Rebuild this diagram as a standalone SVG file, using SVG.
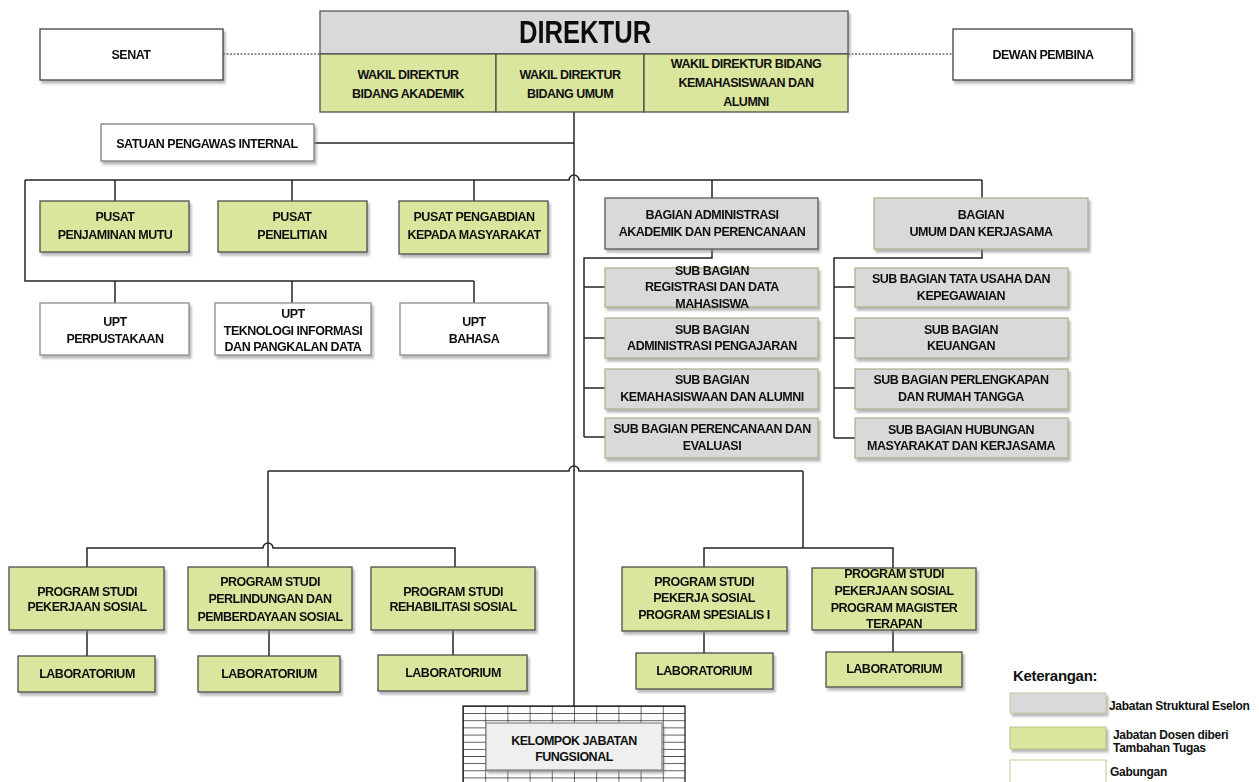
<svg xmlns="http://www.w3.org/2000/svg" width="1259" height="782" viewBox="0 0 1259 782">
<style>
text{font-family:"Liberation Sans",Arial,sans-serif;font-weight:bold;font-size:12.5px;letter-spacing:-0.5px;fill:#111;text-anchor:middle}
.g{fill:#D9D9D9;stroke:#595959;stroke-width:1.3}
.y{fill:#DAE69E;stroke:#4D4D4D;stroke-width:1.3}
.w{fill:#FFFFFF;stroke:#404040;stroke-width:1.3}
.gl{fill:#D9D9D9;stroke:#B0B48E;stroke-width:1.3}
.c{fill:none;stroke:#262626;stroke-width:1.5}
.d{fill:none;stroke:#262626;stroke-width:1;stroke-dasharray:2 1.5}
.sh{filter:url(#sh)}
.lg{text-anchor:start;font-size:12px;letter-spacing:-0.3px}
</style>
<defs>
<filter id="sh" x="-10%" y="-10%" width="130%" height="140%">
<feDropShadow dx="2" dy="3" stdDeviation="1.2" flood-color="#808080" flood-opacity="0.55"/>
</filter>
<pattern id="grid" x="463" y="706" width="22.2" height="7.15" patternUnits="userSpaceOnUse">
<path d="M0 0H22.2M0 0V7.15" fill="none" stroke="#111" stroke-width="1.2"/>
</pattern>
</defs>

<g id="connectors">
<path class="d" d="M223 54H320M848 54H953"/>
<path class="c" d="M574 112V706"/>
<path class="c" d="M314 143H574"/>
<path class="c" d="M25 180H569A5 5 0 0 1 579 180H982M25 180V281H474"/>
<path class="c" d="M115 180V201M292 180V201M474 180V201M115 281V303M292 281V303M474 281V303M712 180V198M982 180V198"/>
<path class="c" d="M712 249V258H584V437M584 287H605M584 338H605M584 388H605M584 437H605"/>
<path class="c" d="M982 249V258H834V438M834 287H855M834 338H855M834 388H855M834 438H855"/>
<path class="c" d="M268 471H569A5 5 0 0 1 579 471H803M268 471V567"/>
<path class="c" d="M87 567V548H263A5 5 0 0 1 273 548H455V567"/>
<path class="c" d="M803 471V548M704 567V548H893V568"/>
<path class="c" d="M87 630V656M269 630V656M453 630V655M704 631V653M893 630V652"/>
</g>

<g id="senat" class="sh"><rect class="w" x="40" y="29" width="183" height="51"/><text x="131" y="59">SENAT</text></g>
<g id="direktur" class="sh"><rect class="g" x="320" y="11" width="528" height="43"/><text transform="translate(585 43) scale(0.8 1)" x="0" y="0" style="font-size:32px;letter-spacing:0">DIREKTUR</text></g>
<g id="wd-akademik"><rect class="y" x="320" y="54" width="176" height="58"/><text x="408" y="79">WAKIL DIREKTUR</text><text x="408" y="98">BIDANG AKADEMIK</text></g>
<g id="wd-umum"><rect class="y" x="496" y="54" width="148" height="58"/><text x="570" y="79">WAKIL DIREKTUR</text><text x="570" y="98">BIDANG UMUM</text></g>
<g id="wd-kemahasiswaan"><rect class="y" x="644" y="54" width="204" height="58"/><text x="746" y="68">WAKIL DIREKTUR BIDANG</text><text x="746" y="87">KEMAHASISWAAN DAN</text><text x="746" y="106">ALUMNI</text></g>
<g id="dewan" class="sh"><rect class="w" x="953" y="29" width="179" height="51"/><text x="1043" y="59">DEWAN PEMBINA</text></g>
<g id="spi" class="sh"><rect class="w" x="101" y="124" width="213" height="37" style="stroke:#7F7F7F"/><text x="207" y="148">SATUAN PENGAWAS INTERNAL</text></g>

<g id="pusat-mutu" class="sh"><rect class="y" x="40" y="201" width="149" height="51"/><text x="115" y="221">PUSAT</text><text x="115" y="239">PENJAMINAN MUTU</text></g>
<g id="pusat-penelitian" class="sh"><rect class="y" x="218" y="201" width="149" height="51"/><text x="292" y="221">PUSAT</text><text x="292" y="239">PENELITIAN</text></g>
<g id="pusat-pengabdian" class="sh"><rect class="y" x="399" y="201" width="149" height="53"/><text x="474" y="221">PUSAT PENGABDIAN</text><text x="474" y="239">KEPADA MASYARAKAT</text></g>

<g id="upt-perpustakaan" class="sh"><rect class="w" x="40" y="303" width="149" height="52" style="stroke:#8C8C8C"/><text x="115" y="326">UPT</text><text x="115" y="343">PERPUSTAKAAN</text></g>
<g id="upt-ti" class="sh"><rect class="w" x="215" y="303" width="156" height="52" style="stroke:#8C8C8C"/><text x="293" y="318">UPT</text><text x="293" y="335">TEKNOLOGI INFORMASI</text><text x="293" y="351">DAN PANGKALAN DATA</text></g>
<g id="upt-bahasa" class="sh"><rect class="w" x="400" y="303" width="148" height="52" style="stroke:#8C8C8C"/><text x="474" y="326">UPT</text><text x="474" y="343">BAHASA</text></g>

<g id="bagian-admin" class="sh"><rect class="g" x="605" y="198" width="213" height="51"/><text x="712" y="219">BAGIAN ADMINISTRASI</text><text x="712" y="236">AKADEMIK DAN PERENCANAAN</text></g>
<g id="bagian-umum" class="sh"><rect class="gl" x="874" y="198" width="214" height="51"/><text x="981" y="219">BAGIAN</text><text x="981" y="236">UMUM DAN KERJASAMA</text></g>

<g id="sub-registrasi" class="sh"><rect class="gl" x="605" y="268" width="213" height="39"/><text x="712" y="275">SUB BAGIAN</text><text x="712" y="291">REGISTRASI  DAN DATA</text><text x="712" y="308">MAHASISWA</text></g>
<g id="sub-pengajaran" class="sh"><rect class="gl" x="605" y="318" width="213" height="40"/><text x="712" y="334">SUB BAGIAN</text><text x="712" y="350">ADMINISTRASI PENGAJARAN</text></g>
<g id="sub-kemahasiswaan" class="sh"><rect class="gl" x="605" y="369" width="213" height="40"/><text x="712" y="384">SUB BAGIAN</text><text x="712" y="401">KEMAHASISWAAN DAN ALUMNI</text></g>
<g id="sub-perencanaan" class="sh"><rect class="gl" x="605" y="418" width="213" height="40"/><text x="712" y="433">SUB BAGIAN  PERENCANAAN DAN</text><text x="712" y="450">EVALUASI</text></g>

<g id="sub-tatausaha" class="sh"><rect class="gl" x="855" y="268" width="213" height="39"/><text x="961" y="283">SUB BAGIAN  TATA USAHA DAN</text><text x="961" y="300">KEPEGAWAIAN</text></g>
<g id="sub-keuangan" class="sh"><rect class="gl" x="855" y="318" width="213" height="40"/><text x="961" y="334">SUB BAGIAN</text><text x="961" y="350">KEUANGAN</text></g>
<g id="sub-perlengkapan" class="sh"><rect class="gl" x="855" y="369" width="213" height="40"/><text x="961" y="384">SUB BAGIAN PERLENGKAPAN</text><text x="961" y="401">DAN RUMAH TANGGA</text></g>
<g id="sub-humas" class="sh"><rect class="gl" x="855" y="418" width="213" height="40"/><text x="961" y="434">SUB BAGIAN HUBUNGAN</text><text x="961" y="450">MASYARAKAT DAN KERJASAMA</text></g>

<g id="ps-peksos" class="sh"><rect class="y" x="9" y="567" width="155" height="63"/><text x="87" y="596">PROGRAM STUDI</text><text x="87" y="611">PEKERJAAN SOSIAL</text></g>
<g id="ps-perlindungan" class="sh"><rect class="y" x="188" y="567" width="164" height="63"/><text x="270" y="586">PROGRAM STUDI</text><text x="270" y="603">PERLINDUNGAN DAN</text><text x="270" y="621">PEMBERDAYAAN SOSIAL</text></g>
<g id="ps-rehabilitasi" class="sh"><rect class="y" x="371" y="567" width="164" height="63"/><text x="453" y="596">PROGRAM STUDI</text><text x="453" y="611">REHABILITASI  SOSIAL</text></g>
<g id="lab1" class="sh"><rect class="y" x="18" y="656" width="137" height="36"/><text x="87" y="678">LABORATORIUM</text></g>
<g id="lab2" class="sh"><rect class="y" x="198" y="656" width="142" height="36"/><text x="269" y="678">LABORATORIUM</text></g>
<g id="lab3" class="sh"><rect class="y" x="378" y="655" width="149" height="36"/><text x="453" y="677">LABORATORIUM</text></g>

<g id="ps-spesialis" class="sh"><rect class="y" x="622" y="567" width="165" height="64"/><text x="704" y="586">PROGRAM STUDI</text><text x="704" y="602">PEKERJA SOSIAL</text><text x="704" y="619">PROGRAM  SPESIALIS I</text></g>
<g id="ps-magister" class="sh"><rect class="y" x="812" y="568" width="164" height="62"/><text x="894" y="578">PROGRAM STUDI</text><text x="894" y="595">PEKERJAAN SOSIAL</text><text x="894" y="612">PROGRAM MAGISTER</text><text x="894" y="628">TERAPAN</text></g>
<g id="lab4" class="sh"><rect class="y" x="636" y="653" width="137" height="36"/><text x="704" y="675">LABORATORIUM</text></g>
<g id="lab5" class="sh"><rect class="y" x="826" y="652" width="136" height="35"/><text x="894" y="673">LABORATORIUM</text></g>

<g id="kelompok">
<rect x="463" y="706" width="222" height="80" fill="url(#grid)" stroke="#111" stroke-width="1.2"/>
<rect class="sh" x="486" y="723" width="176" height="47" fill="#EFEFEF" stroke="#8C8C8C" stroke-width="1.3"/>
<text x="574" y="745">KELOMPOK JABATAN</text><text x="574" y="761">FUNGSIONAL</text>
</g>

<g id="legend">
<text x="1013" y="681" style="text-anchor:start;font-size:15px;letter-spacing:-0.3px">Keterangan:</text>
<rect class="sh" x="1010" y="693" width="96" height="20" fill="#D9D9D9" stroke="#C3C7A0" stroke-width="1"/>
<text class="lg" x="1109" y="710">Jabatan Struktural Eselon</text>
<rect class="sh" x="1010" y="727" width="96" height="22" fill="#DAE69E" stroke="#B7C083" stroke-width="1"/>
<text class="lg" x="1113" y="739">Jabatan Dosen diberi</text>
<text class="lg" x="1113" y="752">Tambahan Tugas</text>
<rect x="1010" y="760" width="96" height="30" fill="#FFFFFF" stroke="#C3C7A0" stroke-width="1"/>
<text class="lg" x="1110" y="776">Gabungan</text>
</g>
</svg>
